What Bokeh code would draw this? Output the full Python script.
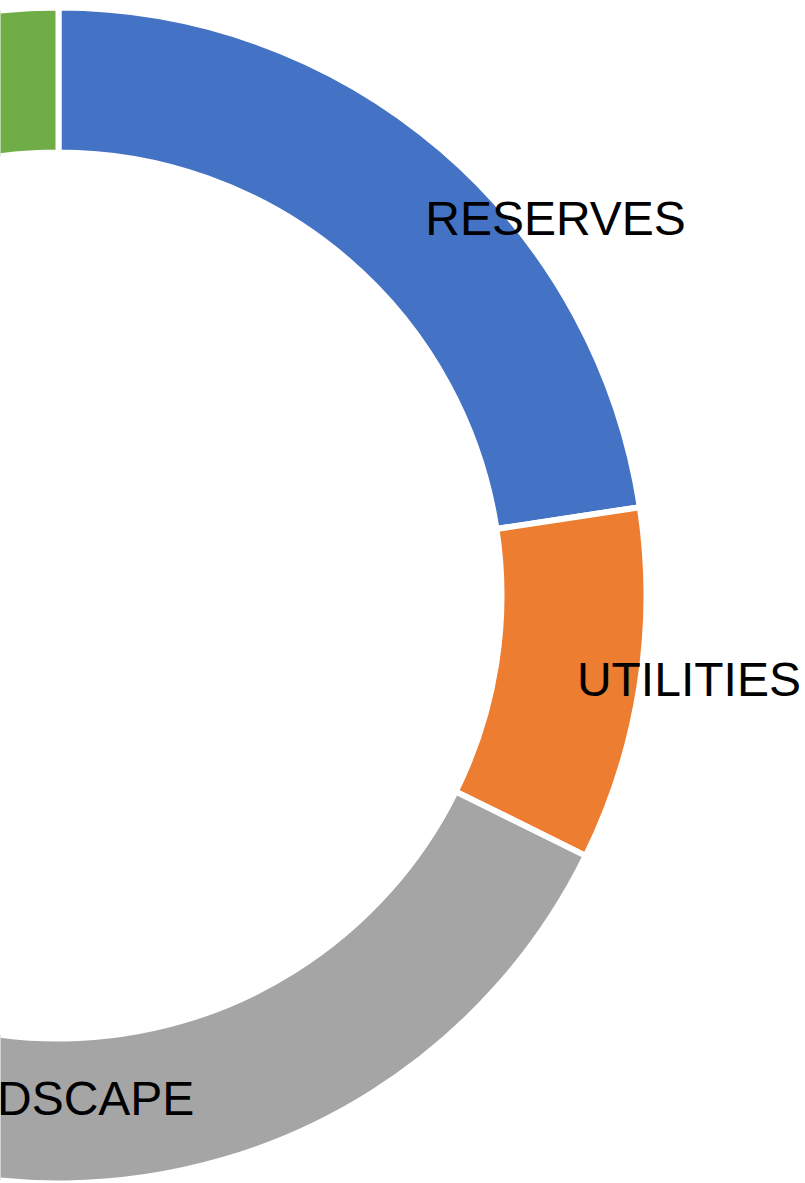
import math
from bokeh.plotting import figure
from bokeh.models import Range1d, ColumnDataSource
from bokeh.core.properties import value
from bokeh.embed import file_html
from bokeh.resources import INLINE

# ---- data ----
categories = ["RESERVES", "UTILITIES", "LANDSCAPE", "OTHER"]
shares = [22.6, 9.7, 35.0, 32.7]
colors = ["#4472C4", "#ED7D31", "#A5A5A5", "#70AD47"]
show_label = [True, True, True, False]

# ---- layout / style ----
W, H = 805, 1183
CX, CY = 58, 595               # ring centre, pixels from top-left
inner_r, outer_r = 443, 588
label_dx = [161, 121, -16]     # pixel nudges of the labels
label_dy = [14, 5, -12]

total = sum(shares)
starts, ends, mids = [], [], []
cum = 0.0
for s in shares:
    a0 = 90 - cum / total * 360
    cum += s
    a1 = 90 - cum / total * 360
    starts.append(math.radians(a0))
    ends.append(math.radians(a1))
    mids.append(math.radians((a0 + a1) / 2))

src = ColumnDataSource(dict(x=[0] * len(shares), y=[0] * len(shares),
                            start=starts, end=ends, color=colors))

p = figure(width=W, height=H, output_backend="svg", toolbar_location=None,
           x_range=Range1d(-CX, W - CX), y_range=Range1d(-(H - CY), CY),
           min_border=0, background_fill_color="white")
p.axis.visible = False
p.xgrid.visible = False
p.ygrid.visible = False
p.outline_line_color = None

p.annular_wedge(x="x", y="y", inner_radius=inner_r, outer_radius=outer_r,
                start_angle="start", end_angle="end", direction="clock",
                fill_color="color", line_color="white", line_width=6, source=src)

mid_r = (inner_r + outer_r) / 2
for i, cat in enumerate(categories):
    if not show_label[i]:
        continue
    lx = mid_r * math.cos(mids[i])
    ly = mid_r * math.sin(mids[i])
    p.text(x=[lx], y=[ly], text=[cat], x_offset=label_dx[i], y_offset=label_dy[i],
           text_font=value("Liberation Sans"), text_font_size="48px",
           text_color="black", text_align="center", text_baseline="alphabetic")

open("out.html", "w").write(file_html(p, INLINE))
